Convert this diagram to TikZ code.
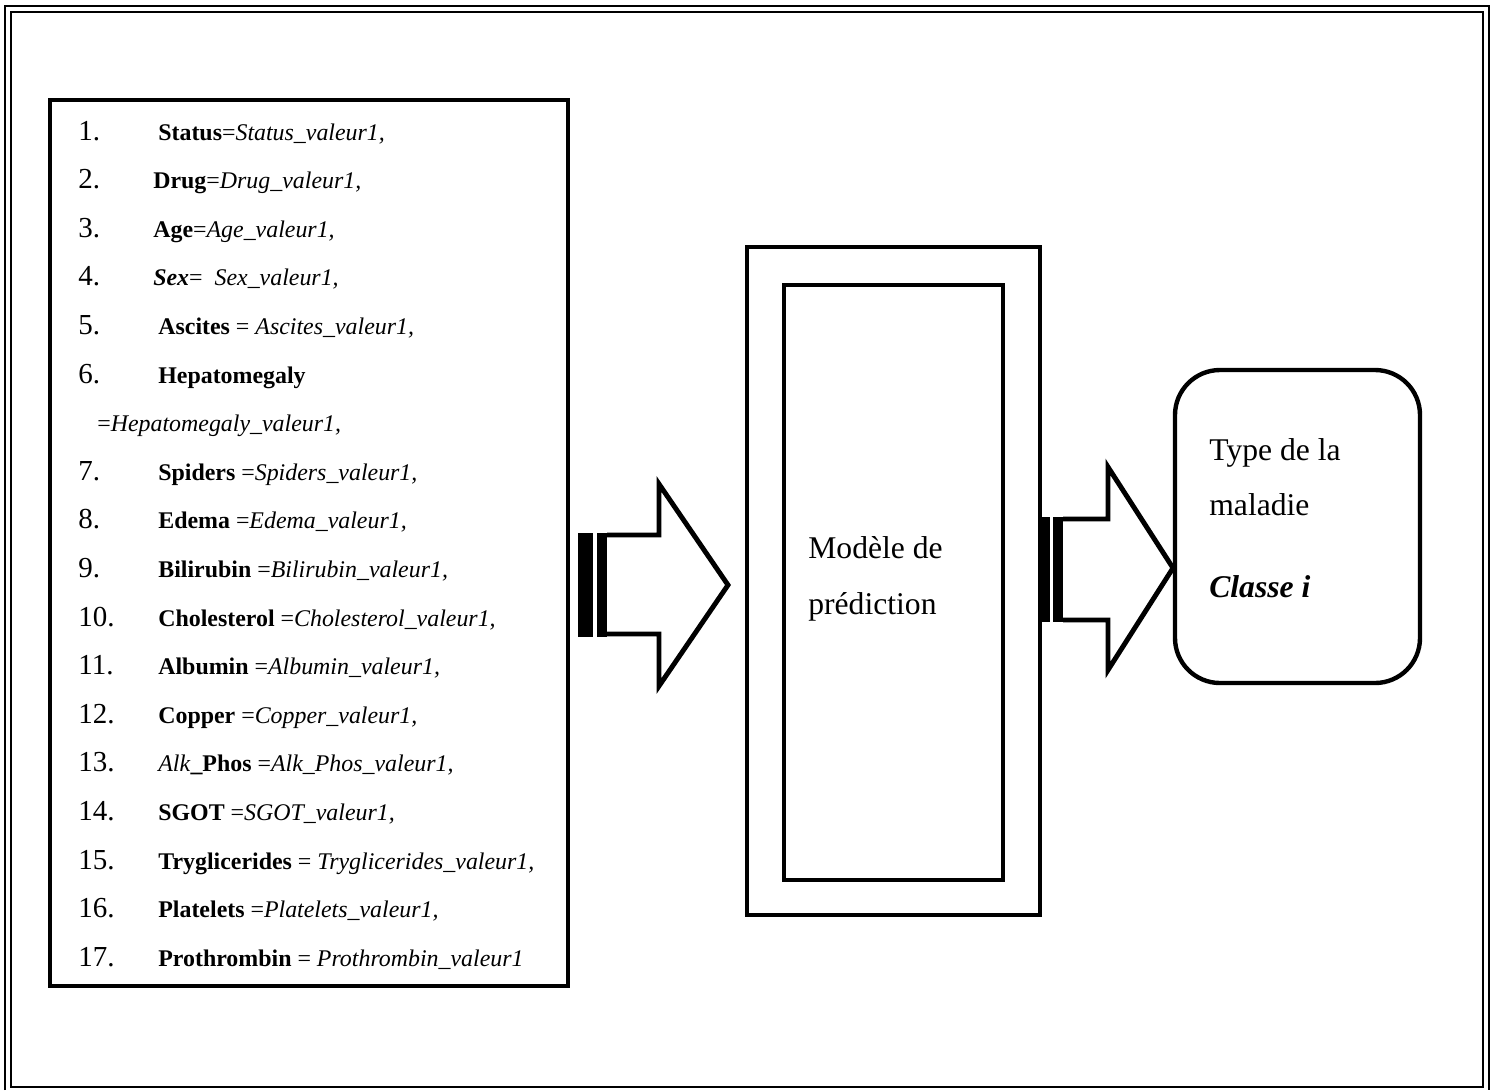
\documentclass[tikz,border=0pt]{standalone}
\usepackage{fontspec}
\setmainfont{Liberation Serif}

\tikzset{
  num/.style={anchor=base west,inner sep=0pt,font=\fontsize{16.5}{20}\selectfont},
  attr/.style={anchor=base west,inner sep=0pt,font=\fontsize{13.6}{16}\selectfont},
  lbl/.style={anchor=base west,inner sep=0pt,font=\fontsize{18}{22}\selectfont},
  frame/.style={line width=1.1pt},
  box/.style={line width=2.5pt},
  blockarrow/.style={line width=2.8pt,line join=miter}
}

\begin{document}
\begin{tikzpicture}[x=0.02cm,y=-0.02cm]
  \useasboundingbox (0,0) rectangle (1495,1090);
  % double frame
  \draw[frame] (5,1090) -- (5,6) -- (1489,6) -- (1489,1090);
  \draw[frame] (11,12) rectangle (1483,1087);

  % list of attributes
  \draw[line width=2.8pt] (50,100) rectangle (568,986);
  \foreach \kk/\xx/\nn/\txt in {
      0/158/1./{\textbf{Status}=\textit{Status\_valeur1,}},
      1/153/2./{\textbf{Drug}=\textit{Drug\_valeur1,}},
      2/153/3./{\textbf{Age}=\textit{Age\_valeur1,}},
      3/153/4./{\textbf{\textit{Sex}}=\ \ \textit{Sex\_valeur1,}},
      4/158/5./{\textbf{Ascites} = \textit{Ascites\_valeur1,}},
      5/158/6./{\textbf{Hepatomegaly}},
      7/158/7./{\textbf{Spiders} =\textit{Spiders\_valeur1,}},
      8/158/8./{\textbf{Edema} =\textit{Edema\_valeur1,}},
      9/158/9./{\textbf{Bilirubin} =\textit{Bilirubin\_valeur1,}},
      10/158/10./{\textbf{Cholesterol} =\textit{Cholesterol\_valeur1,}},
      11/158/11./{\textbf{Albumin} =\textit{Albumin\_valeur1,}},
      12/158/12./{\textbf{Copper} =\textit{Copper\_valeur1,}},
      13/158/13./{\textit{Alk}\textbf{\_Phos} =\textit{Alk\_Phos\_valeur1,}},
      14/158/14./{\textbf{SGOT} =\textit{SGOT\_valeur1,}},
      15/158/15./{\textbf{Tryglicerides} = \textit{Tryglicerides\_valeur1,}},
      16/158/16./{\textbf{Platelets} =\textit{Platelets\_valeur1,}},
      17/158/17./{\textbf{Prothrombin} = \textit{Prothrombin\_valeur1}}} {
    \node[num] (n\nn) at (78,140+48.6*\kk) {\nn};
    \node[attr] (a\nn) at (\xx,140+48.6*\kk) {\txt};
  }
  \node[attr] (a6b) at (97,140+48.6*6) {=\textit{Hepatomegaly\_valeur1,}};

  % first arrow
  \fill (578,533) rectangle (593,637);
  \fill (597,533) rectangle (607,637);
  \draw[blockarrow] (607,535) -- (659,535) -- (659,484) -- (728,585)
    -- (659,686) -- (659,634) -- (607,634);

  % prediction model
  \draw[box] (747,247) rectangle (1040,915);
  \draw[box] (784,285) rectangle (1003,880);
  \node[lbl] (mod1) at (808,558) {Modèle de};
  \node[lbl] (mod2) at (808,614) {prédiction};

  % second arrow
  \fill (1040,517) rectangle (1050,622);
  \fill (1053,517) rectangle (1063,622);
  \draw[blockarrow] (1063,519) -- (1108,519) -- (1108,467) -- (1173,568)
    -- (1108,670) -- (1108,620) -- (1063,620);

  % result
  \draw[box,rounded corners=0.9cm] (1175,370) rectangle (1420,683);
  \node[lbl] (res1) at (1209,460) {Type de la};
  \node[lbl] (res2) at (1209,515) {maladie};
  \node[lbl] (res3) at (1209,597) {\textbf{\textit{Classe i}}};
\end{tikzpicture}
\end{document}
